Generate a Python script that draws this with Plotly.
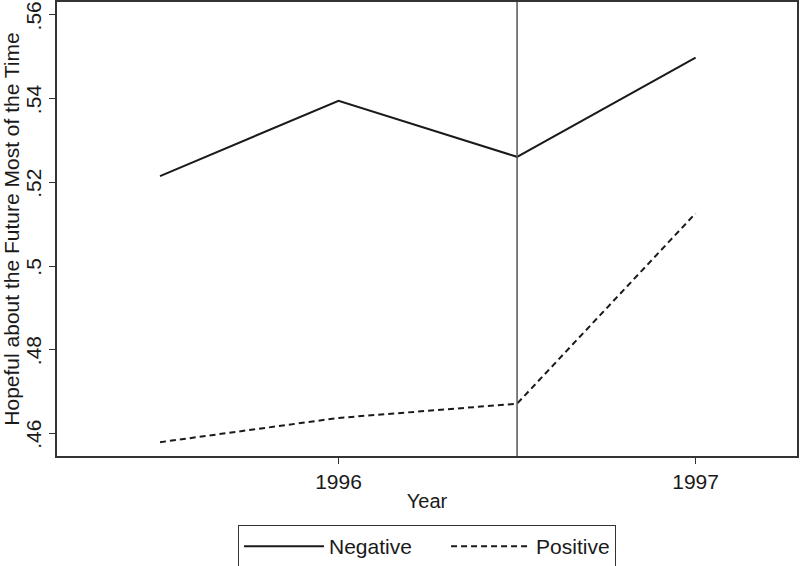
import plotly.graph_objects as go

# Data
years = [1995.5, 1996.0, 1996.5, 1997.0]
negative = [0.5215, 0.5395, 0.5261, 0.5498]
positive = [0.4579, 0.4637, 0.4671, 0.5126]
cutoff_year = 1996.5

series_names = ["Negative", "Positive"]
x_tickvals = [1996, 1997]
x_ticktext = ["1996", "1997"]
y_tickvals = [0.46, 0.48, 0.50, 0.52, 0.54, 0.56]
y_ticktext = [".46", ".48", ".5", ".52", ".54", ".56"]

_FONT = "Liberation Sans, Arial, sans-serif"
_INK = "#1a1a1a"
_PAD = "\u00a0" * 5  # extra room after the first legend entry, Stata-style

fig = go.Figure()

fig.add_trace(go.Scatter(
    x=years, y=negative, mode="lines", name=series_names[0] + _PAD,
    line=dict(color=_INK, width=2),
))
fig.add_trace(go.Scatter(
    x=years, y=positive, mode="lines", name=series_names[1],
    line=dict(color=_INK, width=2, dash="6px,4px"),
))

# vertical reference line
fig.add_vline(x=cutoff_year, line=dict(color="#555555", width=1.5))

fig.update_layout(
    width=800, height=566,
    paper_bgcolor="white", plot_bgcolor="white",
    margin=dict(l=57, r=3, t=2, b=110, autoexpand=False),
    font=dict(family=_FONT, size=21, color=_INK),
    showlegend=True,
    legend=dict(
        orientation="h",
        x=0.5, xanchor="center",
        y=-0.152, yanchor="top",
        bordercolor="#333333", borderwidth=1,
        font=dict(size=21),
        itemwidth=80,
        tracegroupgap=0,
    ),
)

fig.update_xaxes(
    range=[1995.2115, 1997.284],
    tickvals=x_tickvals, ticktext=x_ticktext,
    ticks="outside", ticklen=6, tickcolor="#333333",
    showline=True, linecolor="#333333", linewidth=1.5, mirror=True,
    showgrid=False, zeroline=False, automargin=False,
    title=dict(text="Year", font=dict(size=20), standoff=2),
    tickfont=dict(size=21),
)
fig.update_yaxes(
    range=[0.4546, 0.5631],
    tickvals=y_tickvals, ticktext=y_ticktext,
    tickangle=-90, ticklabeloverflow="allow", ticklabelshift=4,
    ticks="outside", ticklen=6, tickcolor="#333333",
    showline=True, linecolor="#333333", linewidth=1.5, mirror=True,
    showgrid=False, zeroline=False, automargin=False,
    title=dict(text="Hopeful about the Future Most of the Time",
               font=dict(size=21), standoff=0),
    tickfont=dict(size=21),
)

# drop the browser's default 8px body margin so the figure sits at 0,0
fig.write_html(
    "out.html",
    config={"displayModeBar": False},
    post_script="document.body.style.margin='0';",
)
